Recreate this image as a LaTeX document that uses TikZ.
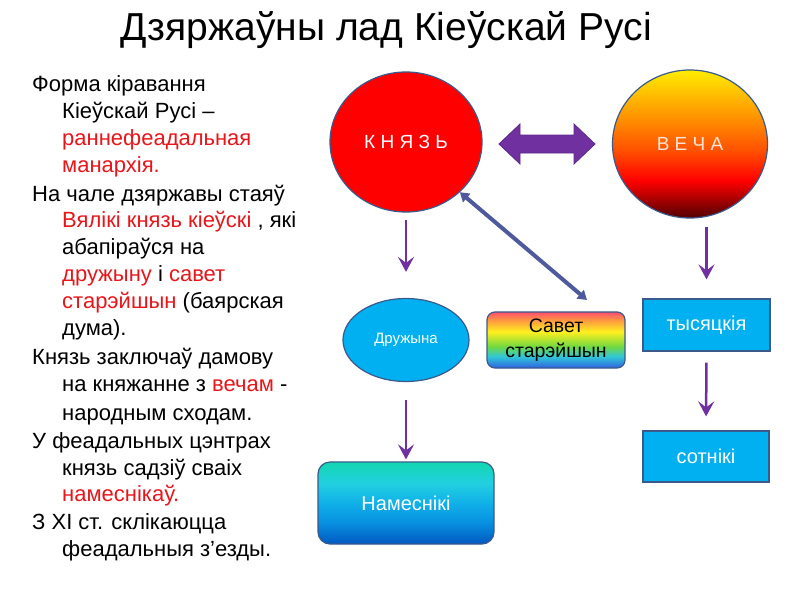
\documentclass[tikz,border=0pt]{standalone}
\usepackage{fontspec}
\setmainfont{Liberation Sans}
\usetikzlibrary{shapes.geometric,arrows.meta}
\definecolor{txtred}{HTML}{E8161B}
\definecolor{purp}{HTML}{7030A0}
\definecolor{purpedge}{HTML}{5B2A8C}
\definecolor{edge}{HTML}{3A5A8C}
\definecolor{sky}{HTML}{00B0F0}
\definecolor{slate}{HTML}{4F5A9E}
\definecolor{vA}{HTML}{500000}
\definecolor{vB}{HTML}{A00000}
\definecolor{vC}{HTML}{FF0000}
\definecolor{vD}{HTML}{FF5000}
\definecolor{vE}{HTML}{FFA000}
\definecolor{vF}{HTML}{FFEC00}
\definecolor{rA}{HTML}{3070E0}
\definecolor{rB}{HTML}{30C8D8}
\definecolor{rC}{HTML}{70D840}
\definecolor{rD}{HTML}{FFF020}
\definecolor{rE}{HTML}{FF9A40}
\definecolor{rF}{HTML}{FF4F6F}
\definecolor{nA}{HTML}{0058C0}
\definecolor{nB}{HTML}{0890E0}
\definecolor{nC}{HTML}{10B0E8}
\definecolor{nD}{HTML}{22D0E0}
\definecolor{nE}{HTML}{12D6B0}
\definecolor{vtext}{HTML}{FCE4D6}
\pgfdeclareverticalshading{vechashade}{100bp}{color(0bp)=(vA); color(25bp)=(vA); color(30.8bp)=(vB); color(37.6bp)=(vC); color(47.8bp)=(vD); color(61.4bp)=(vE); color(75bp)=(vF); color(100bp)=(vF)}
\pgfdeclareverticalshading{rainbowshade}{100bp}{color(0bp)=(rA); color(26.5bp)=(rA); color(35.3bp)=(rB); color(44.1bp)=(rC); color(57.4bp)=(rD); color(67.6bp)=(rE); color(75bp)=(rF); color(100bp)=(rF)}
\pgfdeclareverticalshading{namshade}{100bp}{color(0bp)=(nA); color(25bp)=(nA); color(38bp)=(nB); color(50bp)=(nC); color(62bp)=(nD); color(75bp)=(nE); color(100bp)=(nE)}
\newcommand{\rd}[1]{\textcolor{txtred}{#1}}
\begin{document}
\begin{tikzpicture}[x=1pt,y=-1pt,
  ln/.style={anchor=base west, inner sep=0pt, font=\fontsize{22}{26}\selectfont},
  titlestyle/.style={anchor=base, inner sep=0pt, font=\fontsize{39}{42}\selectfont},
  bigcirc/.style={ellipse, draw=edge, line width=1.2pt, inner sep=0pt},
  bluebox/.style={rectangle, draw=edge, line width=1.2pt, fill=sky, text=white, inner sep=0pt, font=\fontsize{20}{24}\selectfont},
  downarrow/.style={draw=purp, line width=2.5pt, -{Stealth[length=15pt,width=16pt,inset=6pt]}},
  diagarrow/.style={draw=slate, line width=4pt, {Triangle[length=9pt,width=11pt]}-{Triangle[length=9pt,width=11pt]}}
]
\useasboundingbox (0,0) rectangle (800,600);
\fill[white] (0,0) rectangle (800,600);

\node[titlestyle] (title) at (386,40) {Дзяржаўны лад Кіеўскай Русі};

\node[ln] (l1) at (32,91) {Форма кіравання};
\node[ln] (l2) at (62,118) {Кіеўскай Русі –};
\node[ln] (l3) at (62,145) {\rd{раннефеадальная}};
\node[ln] (l4) at (62,172) {\rd{манархія.}};
\node[ln] (l5) at (32,201) {На чале дзяржавы стаяў};
\node[ln] (l6) at (62,227) {\rd{Вялікі князь кіеўскі} , які};
\node[ln] (l7) at (62,254) {абапіраўся на};
\node[ln] (l8) at (62,281) {\rd{дружыну} і \rd{савет}};
\node[ln] (l9) at (62,308) {\rd{старэйшын} (баярская};
\node[ln] (l10) at (62,335) {дума).};
\node[ln] (l11) at (32,364) {Князь заключаў дамову};
\node[ln] (l12) at (62,391) {на княжанне з \rd{вечам} -};
\node[ln] (l13) at (62,420) {народным сходам.};
\node[ln] (l14) at (32,448) {У феадальных цэнтрах};
\node[ln] (l15) at (62,475) {князь садзіў сваіх};
\node[ln] (l16) at (62,501) {\rd{намеснікаў.}};
\node[ln] (l17) at (32,529) {З XI ст. склікаюцца};
\node[ln] (l18) at (62,556) {феадальныя з’езды.};

\node[bigcirc, fill=red, minimum width=152pt, minimum height=140pt, text=white, font=\fontsize{19}{22}\selectfont] (knyaz) at (406,142) {К Н Я З Ь};
\node[bigcirc, shading=vechashade, minimum width=155pt, minimum height=148pt, text=vtext, font=\fontsize{19}{22}\selectfont] (vecha) at (690,144) {В Е Ч А};

\node[ellipse, draw=edge, line width=1.2pt, fill=sky, text=white, inner sep=0pt, minimum width=126pt, minimum height=83pt, font=\fontsize{15}{18}\selectfont] (druzh) at (406,340) {Дружына};
\node[rectangle, rounded corners=8pt, draw=edge, line width=1.2pt, shading=rainbowshade, inner sep=0pt, minimum width=138pt, minimum height=56pt, align=center, font=\fontsize{19.5}{25}\selectfont] (savet) at (556,340) {Савет\\старэйшын};
\node[bluebox, minimum width=127pt, minimum height=52pt] (tys) at (706.5,325) {тысяцкія};
\node[bluebox, minimum width=126pt, minimum height=51pt] (sot) at (706,456.5) {сотнікі};
\node[rectangle, rounded corners=12pt, draw=edge, line width=1.2pt, shading=namshade, text=white, inner sep=0pt, minimum width=176pt, minimum height=82pt, font=\fontsize{20}{24}\selectfont] (nam) at (406,503) {Намеснікі};

\draw[fill=purp, draw=purpedge, line width=0.8pt] (499,144) -- (520,124) -- (520,135) -- (574,135) -- (574,124) -- (595,144) -- (574,164) -- (574,153) -- (520,153) -- (520,164) -- cycle;

\coordinate (svtip) at (587,300);
\draw[diagarrow] (knyaz.-43) -- (svtip);

\draw[downarrow, shorten <=7pt, shorten >=26pt] (knyaz.south) -- (druzh.north);
\draw[downarrow, shorten <=8pt, shorten >=19pt] (tys.north |- vecha.south) -- (tys.north);
\draw[downarrow, shorten <=18pt, shorten >=2pt] (druzh.south) -- (nam.north);
\draw[downarrow, shorten <=11pt, shorten >=14pt] (tys.south) -- (sot.north);
\end{tikzpicture}
\end{document}
